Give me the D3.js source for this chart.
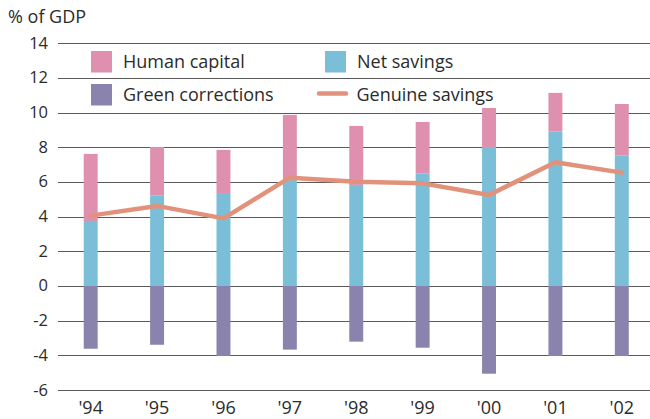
<!DOCTYPE html>
<html><head><meta charset="utf-8">
<script src="https://cdn.jsdelivr.net/npm/d3@7"></script>
<style>
html,body{margin:0;padding:0;background:#fff;}
text{font-family:"Open Sans",sans-serif;fill:#2b2b2b;}
</style></head>
<body><svg id="chart" width="650" height="419"></svg>
<script>
const years = ["'94","'95","'96","'97","'98","'99","'00","'01","'02"];
const humanCapital = [3.87, 2.81, 2.54, 3.75, 3.40, 2.96, 2.25, 2.24, 2.96];
const netSavings = [3.75, 5.21, 5.31, 6.12, 5.83, 6.50, 8.02, 8.90, 7.54];
const greenCorrections = [-3.62, -3.39, -4.04, -3.67, -3.21, -3.56, -5.06, -4.04, -4.04];
const genuineSavings = [4.06, 4.62, 3.90, 6.25, 6.02, 5.92, 5.25, 7.14, 6.54];
const yTicks = [14, 12, 10, 8, 6, 4, 2, 0, -2, -4, -6];

const colors = {human:"#DE90AE", net:"#7BBED8", green:"#8A83AE", genuine:"#E2927A"};

const svg = d3.select("#chart");
const x = d3.scaleBand().domain(years).range([57.5, 655]).paddingInner(0.79).paddingOuter(0.395);
const y = d3.scaleLinear().domain([-6, 14]).range([390, 43.3]);

// gridlines
svg.append("g").selectAll("line").data(yTicks).join("line")
  .attr("x1", 58).attr("x2", 650)
  .attr("y1", d => Math.round(y(d)) + 0.5).attr("y2", d => Math.round(y(d)) + 0.5)
  .attr("stroke", "#5a5a5a").attr("stroke-width", 1.2);

// y tick labels
svg.append("g").selectAll("text").data(yTicks).join("text")
  .attr("x", 48).attr("y", d => y(d) + 5.5)
  .attr("text-anchor", "end").attr("font-size", 16.5)
  .text(d => d);

// y title
svg.append("text").attr("x", 8).attr("y", 23).attr("font-size", 18).text("% of GDP");

const bw = x.bandwidth();
const bars = svg.append("g");
// net savings
bars.selectAll("rect.net").data(years).join("rect").attr("class","net")
  .attr("x", d => x(d)).attr("width", bw)
  .attr("y", (d,i) => y(netSavings[i])).attr("height", (d,i) => y(0) - y(netSavings[i]))
  .attr("fill", colors.net);
// human capital stacked on net
bars.selectAll("rect.hc").data(years).join("rect").attr("class","hc")
  .attr("x", d => x(d)).attr("width", bw)
  .attr("y", (d,i) => y(netSavings[i] + humanCapital[i]))
  .attr("height", (d,i) => y(netSavings[i]) - y(netSavings[i] + humanCapital[i]))
  .attr("fill", colors.human);
// green corrections negative
bars.selectAll("rect.gc").data(years).join("rect").attr("class","gc")
  .attr("x", d => x(d)).attr("width", bw)
  .attr("y", y(0)).attr("height", (d,i) => y(greenCorrections[i]) - y(0))
  .attr("fill", colors.green);

// genuine savings line
const line = d3.line().x((d,i) => x(years[i]) + bw/2).y(d => y(d));
svg.append("path").datum(genuineSavings).attr("d", line)
  .attr("fill", "none").attr("stroke", colors.genuine).attr("stroke-width", 4.5)
  .attr("stroke-linejoin", "round").attr("stroke-linecap", "round");

// x labels
svg.append("g").selectAll("text").data(years).join("text")
  .attr("x", d => x(d) + bw/2).attr("y", 414)
  .attr("text-anchor", "middle").attr("font-size", 18).text(d => d);

// legend
const legend = [
  {label:"Human capital", type:"rect", color:colors.human, x:91, y:51},
  {label:"Net savings", type:"rect", color:colors.net, x:325, y:51},
  {label:"Green corrections", type:"rect", color:colors.green, x:91, y:84},
  {label:"Genuine savings", type:"line", color:colors.genuine, x:317, y:84}
];
const lg = svg.append("g");
legend.forEach(l => {
  if (l.type === "rect") {
    lg.append("rect").attr("x", l.x).attr("y", l.y).attr("width", 21).attr("height", 21.5).attr("fill", l.color);
    lg.append("text").attr("x", l.x + 32).attr("y", l.y + 16.5).attr("font-size", 18).text(l.label);
  } else {
    lg.append("line").attr("x1", l.x + 2).attr("x2", l.x + 29).attr("y1", l.y + 9.5).attr("y2", l.y + 9.5)
      .attr("stroke", l.color).attr("stroke-width", 4.5).attr("stroke-linecap", "round");
    lg.append("text").attr("x", l.x + 39.5).attr("y", l.y + 16.5).attr("font-size", 18).text(l.label);
  }
});
</script></body></html>
